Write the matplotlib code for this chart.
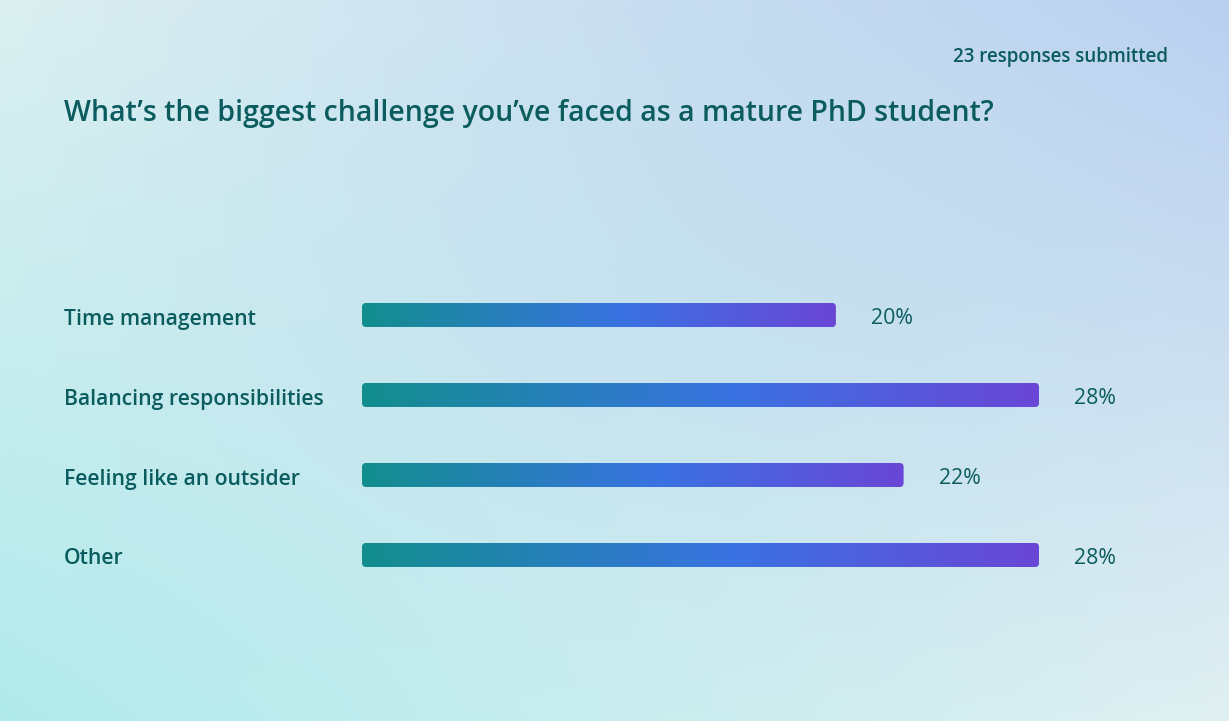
import numpy as np
import matplotlib
matplotlib.use("Agg")
import matplotlib.pyplot as plt
from matplotlib.patches import FancyBboxPatch
from matplotlib.colors import LinearSegmentedColormap, to_rgb

# ---- data ----
categories = ["Time management", "Balancing responsibilities", "Feeling like an outsider", "Other"]
votes = [7, 10, 8, 10]
pct_labels = ["20%", "28%", "22%", "28%"]
title = "What\u2019s the biggest challenge you\u2019ve faced as a mature PhD student?"
subtitle = "23 responses submitted"

W, H = 1229, 721
DPI = 100
TXT = "#0a5c5e"
FONT = ["Open Sans", "DejaVu Sans"]

fig = plt.figure(figsize=(W / DPI, H / DPI), dpi=DPI)

# ---- background gradient ----
bg = fig.add_axes([0, 0, 1, 1])
bg.set_axis_off()
ny, nx = 120, 200
yy, xx = np.mgrid[0:1:ny * 1j, 0:1:nx * 1j]
tl = np.array(to_rgb("#dcf0f1"))
tr = np.array(to_rgb("#bacff0"))
bl = np.array(to_rgb("#b1eaeb"))
br = np.array(to_rgb("#e0f0f2"))
img = ((1 - xx)[..., None] * (1 - yy)[..., None] * tl + xx[..., None] * (1 - yy)[..., None] * tr
       + (1 - xx)[..., None] * yy[..., None] * bl + xx[..., None] * yy[..., None] * br)
# slight bluish center
c = np.array(to_rgb("#bfdcef"))
wgt = np.exp(-(((xx - 0.6) / 0.35) ** 2 + ((yy - 0.35) / 0.35) ** 2))[..., None] * 0.4
img = img * (1 - wgt) + c * wgt
bg.imshow(img, extent=(0, 1, 0, 1), aspect="auto", origin="upper", interpolation="bicubic")
bg.set_xlim(0, 1)
bg.set_ylim(0, 1)

# ---- bars axes ----
x0_px, x1_px = 362, 1039
top_px, bot_px = 275, 595
ax = fig.add_axes([x0_px / W, 1 - bot_px / H, (x1_px - x0_px) / W, (bot_px - top_px) / H])
ax.set_axis_off()
vmax = max(votes)
n = len(categories)

upx_x = vmax / (x1_px - x0_px)
upx_y = n / (bot_px - top_px)
bar_h = 24 * upx_y
rad = 4 * upx_x

cmap = LinearSegmentedColormap.from_list(
    "g", [(0, "#128e8e"), (0.55, "#3a72e2"), (1.0, "#6a46d6")])
grad = np.linspace(0, 1, 256)[None, :]

for i, (cat, v, lab) in enumerate(zip(categories, votes, pct_labels)):
    patch = FancyBboxPatch((0, i - bar_h / 2), v, bar_h,
                           boxstyle=f"round,pad=0,rounding_size={rad}",
                           mutation_aspect=upx_y / upx_x,
                           facecolor="none", edgecolor="none")
    ax.add_patch(patch)
    im = ax.imshow(grad, cmap=cmap, extent=(0, v, i + bar_h / 2, i - bar_h / 2),
                   aspect="auto", interpolation="bilinear")
    im.set_clip_path(patch)
    ax.annotate(lab, xy=(v, i), xytext=(35, -4), textcoords="offset pixels",
                ha="left", va="center", fontsize=15.3, color=TXT, family=FONT)
    fig.text(64 / W, 1 - (319 + 80 * i) / H, cat, ha="left", va="center",
             fontsize=15.2, color=TXT, family=FONT, weight="semibold")

ax.set_xlim(0, vmax)
ax.set_ylim(n - 0.5, -0.5)

fig.text(64 / W, 1 - 114 / H, title, ha="left", va="center", fontsize=20.5,
         color=TXT, family=FONT, weight="semibold")
fig.text(1168 / W, 1 - 57 / H, subtitle, ha="right", va="center", fontsize=13.5,
         color=TXT, family=FONT, weight="semibold")

fig.savefig("out.png", dpi=DPI)
